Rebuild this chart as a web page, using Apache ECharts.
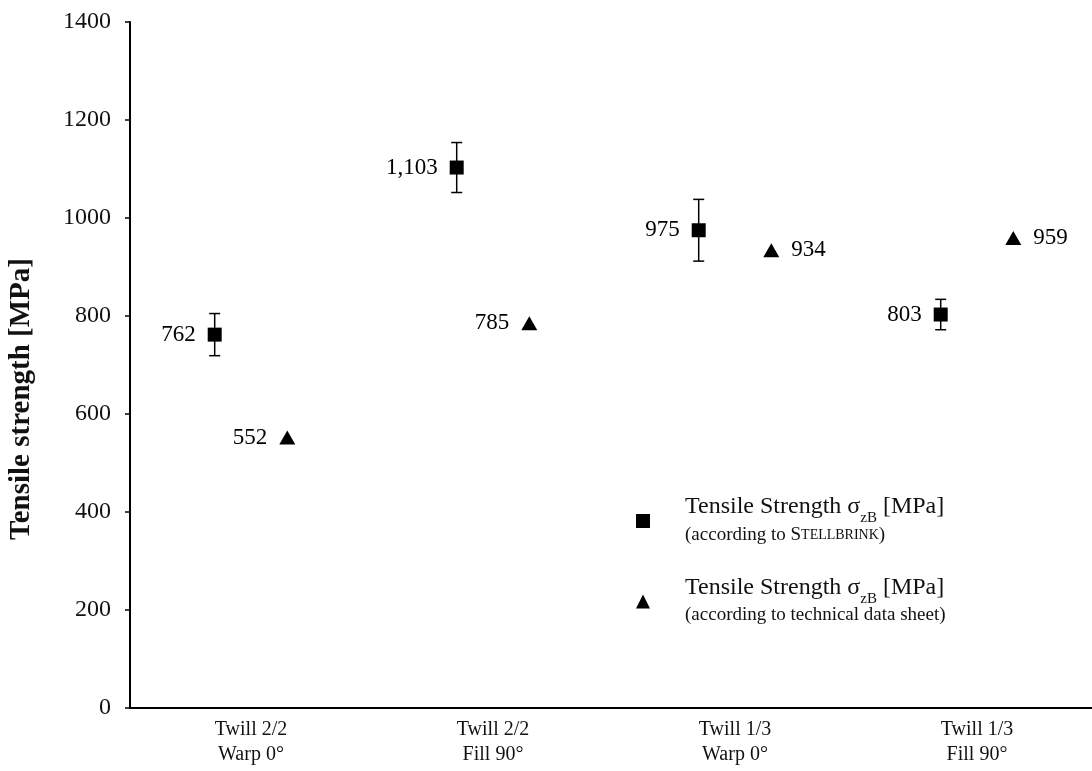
<!DOCTYPE html>
<html>
<head>
<meta charset="utf-8">
<script src="https://cdn.jsdelivr.net/npm/echarts@6/dist/echarts.min.js"></script>
<style>
  html, body { margin: 0; padding: 0; background: #ffffff; }
  #chart { width: 1092px; height: 771px; }
</style>
</head>
<body>
<div id="chart"></div>
<script>
// Fabric samples along the x axis
const categories = ['Twill 2/2\nWarp 0°', 'Twill 2/2\nFill 90°', 'Twill 1/3\nWarp 0°', 'Twill 1/3\nFill 90°'];
// Measured tensile strength (MPa) and its scatter
const stellbrinkValues = [762, 1103, 975, 803];
const stellbrinkErrors = [43, 51, 63, 31];
// Tensile strength from the technical data sheet (MPa)
const datasheetValues = [552, 785, 934, 959];
// Y axis range
const yMin = 0, yMax = 1400, yStep = 200;

const FONT = '"Liberation Serif", "Times New Roman", serif';
const SHIFT = 0.15; // horizontal shift of each marker from its category centre

const squarePts = stellbrinkValues.map((v, i) => [i + 1 - SHIFT, v]);
const trianglePts = datasheetValues.map((v, i) => [i + 1 + SHIFT, v]);
const errorPts = stellbrinkValues.map((v, i) => [i + 1 - SHIFT, v - stellbrinkErrors[i], v + stellbrinkErrors[i]]);

const fmt = v => v.toLocaleString('en-US');

const chart = echarts.init(document.getElementById('chart'), null, { renderer: 'canvas' });

chart.setOption({
  backgroundColor: '#ffffff',
  animation: false,
  grid: { left: 130, top: 22, bottom: 63, width: 968, outerBoundsMode: 'none' },
  xAxis: [
    {
      type: 'category',
      data: categories,
      axisLine: { lineStyle: { color: '#000', width: 2 } },
      axisTick: { alignWithLabel: true, length: 6, lineStyle: { color: '#777', width: 1.5 } },
      axisLabel: { color: '#111', fontFamily: FONT, fontSize: 20, lineHeight: 25, margin: 9 },
      splitLine: { show: false }
    },
    {
      type: 'value',
      min: 0.5,
      max: 4.5,
      show: false
    }
  ],
  yAxis: {
    type: 'value',
    min: yMin,
    max: yMax,
    interval: yStep,
    name: 'Tensile strength [MPa]',
    nameLocation: 'middle',
    nameRotate: 90,
    nameGap: 94,
    nameTextStyle: {
      color: '#111', fontFamily: FONT, fontSize: 29, fontWeight: 'bold',
      padding: [0, 68, 0, 0]
    },
    axisLine: { show: true, lineStyle: { color: '#000', width: 2 } },
    axisTick: { show: true, length: 5, lineStyle: { color: '#000', width: 1.5 } },
    axisLabel: { color: '#111', fontFamily: FONT, fontSize: 24, margin: 19, formatter: v => String(v) },
    splitLine: { show: false }
  },
  legend: {
    orient: 'vertical',
    left: 631,
    top: 490,
    itemGap: 31,
    itemWidth: 14,
    itemHeight: 14,
    selectedMode: false,
    data: [
      { name: 'stellbrink', icon: 'rect', itemStyle: { color: '#000', opacity: 1 } },
      { name: 'datasheet', icon: 'triangle', itemStyle: { color: '#000', opacity: 1 } }
    ],
    formatter: name => {
      const head = '{a|Tensile Strength σ}{sub|zB}{a| [MPa]}';
      if (name === 'stellbrink') return head + '\n{s|(according to S}{sc|TELLBRINK}{s|)}';
      return head + '\n{s|(according to technical data sheet)}';
    },
    textStyle: {
      padding: [0, 0, 0, 30],
      rich: {
        a: { fontFamily: FONT, fontSize: 24, color: '#111', lineHeight: 28 },
        sub: { fontFamily: FONT, fontSize: 15, color: '#111', lineHeight: 28, verticalAlign: 'bottom', padding: [0, 0, -5, 0] },
        s: { fontFamily: FONT, fontSize: 19, color: '#111', lineHeight: 28 },
        sc: { fontFamily: FONT, fontSize: 14, color: '#111', lineHeight: 28 }
      }
    }
  },
  series: [
    {
      name: 'errorbars',
      type: 'custom',
      xAxisIndex: 1,
      z: 1,
      data: errorPts,
      renderItem: (params, api) => {
        const x = api.value(0);
        const lo = api.coord([x, api.value(1)]);
        const hi = api.coord([x, api.value(2)]);
        const cap = 5.5;
        const style = { stroke: '#000', lineWidth: 1.5 };
        return {
          type: 'group',
          children: [
            { type: 'line', shape: { x1: lo[0], y1: lo[1], x2: hi[0], y2: hi[1] }, style },
            { type: 'line', shape: { x1: hi[0] - cap, y1: hi[1], x2: hi[0] + cap, y2: hi[1] }, style },
            { type: 'line', shape: { x1: lo[0] - cap, y1: lo[1], x2: lo[0] + cap, y2: lo[1] }, style }
          ]
        };
      }
    },
    {
      name: 'stellbrink',
      type: 'scatter',
      xAxisIndex: 1,
      z: 3,
      symbol: 'rect',
      symbolSize: 14,
      itemStyle: { color: '#000', opacity: 1 },
      data: squarePts,
      label: {
        show: true,
        position: 'left',
        distance: 12,
        fontFamily: FONT,
        fontSize: 23,
        color: '#000',
        formatter: p => fmt(p.value[1])
      }
    },
    {
      name: 'datasheet',
      type: 'scatter',
      xAxisIndex: 1,
      z: 3,
      symbol: 'triangle',
      symbolSize: [16, 14],
      itemStyle: { color: '#000', opacity: 1 },
      data: trianglePts.map((pt, i) => ({
        value: pt,
        label: { position: i < 2 ? 'left' : 'right' }
      })),
      label: {
        show: true,
        distance: 12,
        fontFamily: FONT,
        fontSize: 23,
        color: '#000',
        formatter: p => fmt(p.value[1])
      }
    }
  ]
});
</script>
</body>
</html>
